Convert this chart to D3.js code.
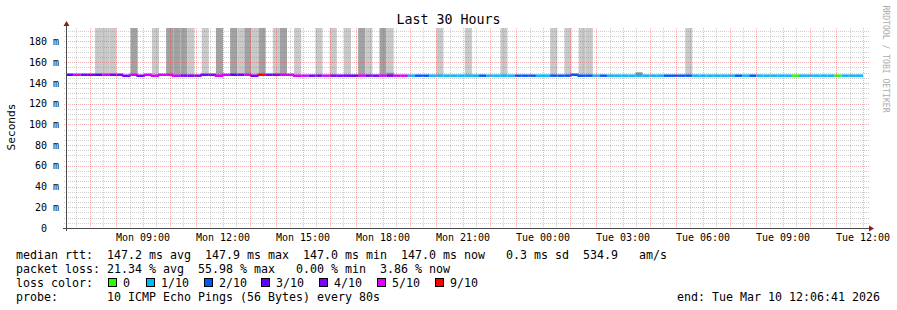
<!DOCTYPE html>
<html>
<head>
<meta charset="utf-8">
<script src="https://cdn.jsdelivr.net/npm/d3@7"></script>
<style>
  body { margin: 0; background: #fff; }
  svg { display: block; font-family: "DejaVu Sans Mono", monospace; }
  text { white-space: pre; }
</style>
</head>
<body>
<svg id="frame"></svg>
<script>
const width = 897;
const height = 310;

// ---- data ----
const parseT = d3.timeParse('%Y-%m-%d %H:%M:%S');
const startTime = parseT('2026-03-09 06:06:41');
const endTime = parseT('2026-03-10 12:06:41');
const firstBucket = parseT('2026-03-09 06:08:00');
const bucketMinutes = 16;

// median rtt per 16 min bucket (ms)
const medianMs = [
  147.9, 147.9, 147.9, 147.9, 147.9, 147.9, 147.9, 147.9, 147.0, 147.9,
  147.0, 147.9, 147.0, 147.9, 147.9, 147.0, 147.0, 147.0, 147.0, 147.9,
  147.9, 147.0, 147.9, 147.9, 147.9, 147.9, 147.0, 147.9, 147.9, 147.9,
  147.9, 147.9, 147.0, 147.0, 147.0, 147.0, 147.0, 147.0, 147.0, 147.0,
  147.0, 147.0, 147.0, 147.0, 147.0, 147.0, 147.0, 147.0, 147.0, 147.0,
  147.0, 147.0, 147.0, 147.0, 147.0, 147.0, 147.0, 147.0, 147.0, 147.0,
  147.0, 147.0, 147.0, 147.0, 147.0, 147.0, 147.0, 147.0, 147.0, 147.0,
  147.0, 147.9, 147.0, 147.0, 147.0, 147.0, 147.0, 147.0, 147.0, 147.0,
  147.0, 147.0, 147.0, 147.0, 147.0, 147.0, 147.0, 147.0, 147.0, 147.0,
  147.0, 147.0, 147.0, 147.0, 147.0, 147.0, 147.0, 147.0, 147.0, 147.0,
  147.0, 147.0, 147.0, 147.0, 147.0, 147.0, 147.0, 147.0, 147.0, 147.0,
  147.0, 147.0
];

// lost pings out of 10 per bucket
const lossOf10 = [
  3, 5, 4, 4, 3, 5, 4, 4, 4, 5,
  4, 5, 5, 5, 5, 5, 4, 4, 4, 4,
  4, 5, 5, 3, 4, 5, 4, 9, 4, 4,
  5, 5, 5, 5, 4, 4, 5, 4, 4, 4,
  3, 5, 4, 4, 5, 4, 5, 5, 1, 2,
  2, 1, 1, 1, 1, 1, 1, 1, 2, 1,
  1, 1, 1, 2, 2, 2, 1, 1, 2, 2,
  2, 2, 2, 2, 1, 2, 1, 1, 1, 1,
  1, 1, 1, 1, 2, 2, 2, 2, 1, 1,
  1, 1, 1, 1, 2, 1, 2, 1, 1, 1,
  1, 1, 0, 1, 1, 1, 1, 1, 0, 1,
  1, 1
];

// smoke reaching past the top: 0 none, 1 light, 2 dark
const smokeShade = [
  0, 0, 0, 0, 1, 1, 1, 0, 0, 2,
  0, 0, 1, 0, 2, 2, 2, 1, 0, 1,
  0, 2, 0, 2, 1, 2, 1, 2, 0, 1,
  2, 0, 1, 0, 0, 1, 0, 1, 0, 1,
  0, 2, 1, 0, 2, 1, 0, 0, 0, 0,
  0, 0, 1, 0, 0, 0, 1, 0, 0, 0,
  0, 1, 0, 0, 0, 0, 0, 0, 1, 0,
  1, 0, 1, 1, 0, 0, 0, 0, 0, 0,
  0, 0, 0, 0, 0, 0, 0, 1, 0, 0,
  0, 0, 0, 0, 0, 0, 0, 0, 0, 0,
  0, 0, 0, 0, 0, 0, 0, 0, 0, 0,
  0, 0
];

// small smoke just above the median (bucket index, top ms)
const smokeCoreBucket = [45, 80];
const smokeCoreTopMs = [149.8, 150.2];

const lossLabels = ['0', '1/10', '2/10', '3/10', '4/10', '5/10', '9/10'];
const lossLevels = [0, 1, 2, 3, 4, 5, 9];
const lossColors = ['#26ff00', '#00b8ff', '#0059ff', '#5e00ff', '#7e00ff', '#dd00ff', '#ff0000'];

const yTicks = [0, 20, 40, 60, 80, 100, 120, 140, 160, 180];
const yMax = 193;

const legendLines = [
  'median rtt:  147.2 ms avg  147.9 ms max  147.0 ms min  147.0 ms now   0.3 ms sd  534.9   am/s',
  'packet loss: 21.34 % avg  55.98 % max   0.00 % min  3.86 % now',
  'loss color:',
  'probe:       10 ICMP Echo Pings (56 Bytes) every 80s'
];
const endLabel = 'end: Tue Mar 10 12:06:41 2026';

// ---- layout ----
const plot = {left: 66, right: 866, top: 28, bottom: 228};

const svg = d3.select('#frame')
  .attr('width', width)
  .attr('height', height);

svg.append('rect').attr('width', width).attr('height', height).attr('fill', '#fff');

const xScale = d3.scaleTime()
  .domain([startTime, endTime])
  .range([plot.left, plot.right]);

const yScale = d3.scaleLinear()
  .domain([0, yMax])
  .range([plot.bottom, plot.top]);

const buckets = medianMs.map((m, i) => {
  const t0 = d3.timeMinute.offset(firstBucket, i * bucketMinutes);
  const t1 = d3.timeMinute.offset(t0, bucketMinutes);
  return {t0, t1, median: m, loss: lossOf10[i], shade: smokeShade[i]};
});

const lossColor = d3.scaleOrdinal().domain(lossLevels).range(lossColors);

svg.append('defs').append('clipPath').attr('id', 'plotclip')
  .append('rect')
  .attr('x', plot.left).attr('y', plot.top)
  .attr('width', plot.right - plot.left).attr('height', plot.bottom - plot.top);

const g = svg.append('g').attr('clip-path', 'url(#plotclip)');

// smoke
g.selectAll('.smoke').data(buckets.filter(d => d.shade > 0)).enter()
  .append('rect')
  .attr('class', 'smoke')
  .attr('x', d => xScale(d.t0))
  .attr('width', d => xScale(d.t1) - xScale(d.t0))
  .attr('y', yScale(yMax))
  .attr('height', d => yScale(d.median) - yScale(yMax))
  .attr('fill', d => d.shade === 2 ? '#a2a2a2' : '#c9c9c9');

g.selectAll('.core').data(smokeCoreBucket).enter()
  .append('rect')
  .attr('class', 'core')
  .attr('x', b => xScale(buckets[b].t0))
  .attr('width', b => xScale(buckets[b].t1) - xScale(buckets[b].t0))
  .attr('y', (b, i) => yScale(smokeCoreTopMs[i]))
  .attr('height', (b, i) => yScale(buckets[b].median) - yScale(smokeCoreTopMs[i]))
  .attr('fill', '#8e8e8e');

// grid (semi transparent, on top of the smoke)
const crisp = v => Math.round(v) + 0.5;
const minorCol = 'rgba(128,128,128,0.38)';
const majorCol = 'rgba(222,70,70,0.42)';
const gridG = svg.append('g');

const minorY = d3.range(5, yMax, 5).filter(v => v % 20 !== 0);
const majorY = yTicks.filter(v => v > 0);
gridG.selectAll('.hmin').data(minorY).enter().append('line')
  .attr('x1', plot.left - 2).attr('x2', plot.right + 3)
  .attr('y1', d => crisp(yScale(d))).attr('y2', d => crisp(yScale(d)))
  .attr('stroke', minorCol).attr('stroke-dasharray', '1,1');
gridG.selectAll('.hmaj').data(majorY).enter().append('line')
  .attr('x1', plot.left - 2).attr('x2', plot.right + 3)
  .attr('y1', d => crisp(yScale(d))).attr('y2', d => crisp(yScale(d)))
  .attr('stroke', majorCol).attr('stroke-dasharray', '1,1');

const halfHours = d3.timeMinute.every(30).range(startTime, endTime);
const minorX = halfHours.filter(t => t.getMinutes() === 30);
const majorX = halfHours.filter(t => t.getMinutes() === 0);
gridG.selectAll('.vmin').data(minorX).enter().append('line')
  .attr('y1', plot.top).attr('y2', plot.bottom + 2)
  .attr('x1', d => crisp(xScale(d))).attr('x2', d => crisp(xScale(d)))
  .attr('stroke', minorCol).attr('stroke-dasharray', '1,1');
gridG.selectAll('.vmaj').data(majorX).enter().append('line')
  .attr('y1', plot.top).attr('y2', plot.bottom + 2)
  .attr('x1', d => crisp(xScale(d))).attr('x2', d => crisp(xScale(d)))
  .attr('stroke', majorCol).attr('stroke-dasharray', '1,1');

// median line coloured by loss
g.selectAll('.med').data(buckets).enter()
  .append('path')
  .attr('class', 'med')
  .attr('d', (d, i) => {
    const y = yScale(d.median);
    const yPrev = i > 0 ? yScale(buckets[i - 1].median) : y;
    return `M${xScale(d.t0)},${yPrev}V${y}H${xScale(d.t1)}`;
  })
  .attr('fill', 'none')
  .attr('stroke', d => lossColor(d.loss))
  .attr('stroke-width', 2.5);

// axes
const axisCol = '#4a4a4a';
svg.append('line')
  .attr('x1', plot.left - 3).attr('x2', plot.right + 4)
  .attr('y1', plot.bottom + 0.5).attr('y2', plot.bottom + 0.5)
  .attr('stroke', axisCol);
svg.append('line')
  .attr('x1', plot.left + 0.5).attr('x2', plot.left + 0.5)
  .attr('y1', plot.bottom + 3).attr('y2', plot.top - 3)
  .attr('stroke', axisCol);
svg.append('path')
  .attr('d', `M${plot.right + 3},${plot.bottom - 2.5}L${plot.right + 8},${plot.bottom + 0.5}L${plot.right + 3},${plot.bottom + 3.5}Z`)
  .attr('fill', '#8c1c1c');
svg.append('path')
  .attr('d', `M${plot.left - 2.5},${plot.top - 2}L${plot.left + 0.5},${plot.top - 7}L${plot.left + 3.5},${plot.top - 2}Z`)
  .attr('fill', '#8c1c1c');

// y labels
svg.selectAll('.ylab').data(yTicks).enter()
  .append('text')
  .attr('x', d => d === 0 ? 47 : 59)
  .attr('y', d => yScale(d) + 3.6)
  .attr('text-anchor', 'end')
  .attr('font-size', 10)
  .attr('fill', '#000')
  .text(d => d === 0 ? '0' : `${d} m`);

// x labels
const labelTimes = d3.timeHour.every(3).range(startTime, d3.timeMinute.offset(endTime, 1));
const fmt = d3.timeFormat('%a %H:%M');
svg.selectAll('.xlab').data(labelTimes).enter()
  .append('text')
  .attr('x', d => xScale(d))
  .attr('y', 241)
  .attr('text-anchor', 'middle')
  .attr('font-size', 10)
  .attr('fill', '#000')
  .text(d => fmt(d));

// title, axis label, watermark
svg.append('text')
  .attr('x', width / 2).attr('y', 24)
  .attr('text-anchor', 'middle')
  .attr('font-size', 13.3)
  .text('Last 30 Hours');

svg.append('text')
  .attr('transform', 'translate(15,127) rotate(-90)')
  .attr('text-anchor', 'middle')
  .attr('font-size', 11.2)
  .text('Seconds');

svg.append('text')
  .attr('transform', 'translate(883,59) rotate(90)')
  .attr('text-anchor', 'middle')
  .attr('font-size', 8.1)
  .attr('fill', '#ababab')
  .text('RRDTOOL / TOBI OETIKER');

// legend
const legFont = 11.63;
svg.selectAll('.leg').data(legendLines).enter()
  .append('text')
  .attr('x', 16)
  .attr('y', (d, i) => 258.5 + i * 14)
  .attr('font-size', legFont)
  .attr('fill', '#000')
  .text(d => d);

svg.append('text')
  .attr('x', 880).attr('y', 300.5)
  .attr('text-anchor', 'end')
  .attr('font-size', legFont)
  .text(endLabel);

const legendX = [108, 146, 204, 261, 319, 377, 435];
const lg = svg.selectAll('.lbox').data(lossLabels).enter().append('g')
  .attr('transform', (d, i) => `translate(${legendX[i]},278)`);
lg.append('rect')
  .attr('x', 0.5).attr('y', 0.5).attr('width', 8).attr('height', 8)
  .attr('fill', (d, i) => lossColors[i])
  .attr('stroke', '#000');
lg.append('text')
  .attr('x', 15).attr('y', 8.5)
  .attr('font-size', legFont)
  .text(d => d);
</script>
</body>
</html>
